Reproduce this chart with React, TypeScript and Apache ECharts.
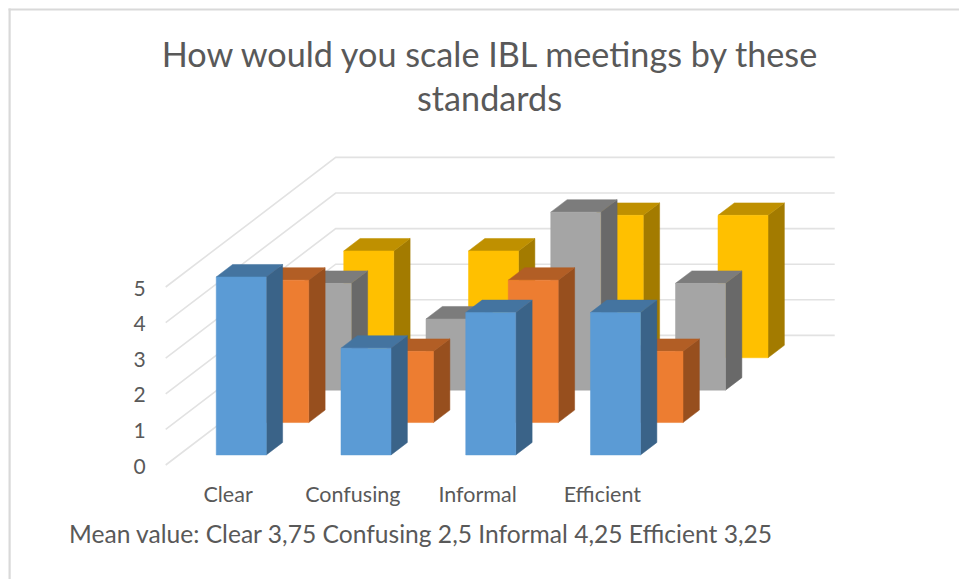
import React, { useEffect, useRef } from "react";
import * as echarts from "echarts";

const titleText = "How would you scale IBL meetings by these\nstandards";
const noteText = "Mean value: Clear 3,75 Confusing 2,5 Informal 4,25 Efficient 3,25";
const categories = ["Clear", "Confusing", "Informal", "Efficient"];
const valueTicks = [0, 1, 2, 3, 4, 5];
const blueValues = [5, 3, 4, 4];
const orangeValues = [4, 2, 4, 2];
const grayValues = [3, 2, 5, 3];
const yellowValues = [3, 3, 4, 4];

const FONT = "Lato";
const DEPTH_DX = 42.5;
const DEPTH_DY = 32.4;
const ROWS = 4;
const ROW_START = 0.31;
const BAR_DEPTH = 0.385;
const BAR_WIDTH_RATIO = 0.401;

type Faces = { front: string; top: string; side: string };

function barSeries(name: string, values: number[], row: number, faces: Faces) {
  return {
    type: "custom",
    name,
    coordinateSystem: "cartesian2d",
    z: 10 - row,
    silent: true,
    data: values.map((v, i) => [i, v]),
    encode: { x: 0, y: 1 },
    renderItem: (_: any, api: any) => {
      const top = api.coord([api.value(0), api.value(1)]);
      const base = api.coord([api.value(0), 0]);
      const band = api.size([1, 0])[0];
      const w = band * BAR_WIDTH_RATIO;
      const ox = (ROW_START + row) * DEPTH_DX;
      const oy = -(ROW_START + row) * DEPTH_DY;
      const l = top[0] + ox - w / 2;
      const r = l + w;
      const t = top[1] + oy;
      const b = base[1] + oy;
      const dx = BAR_DEPTH * DEPTH_DX;
      const dy = BAR_DEPTH * DEPTH_DY;
      const poly = (points: number[][], fill: string) => ({
        type: "polygon",
        shape: { points },
        style: { fill, stroke: fill, lineWidth: 0.5 },
      });
      return {
        type: "group",
        children: [
          poly([[r, t], [r + dx, t - dy], [r + dx, b - dy], [r, b]], faces.side),
          poly([[l, t], [l + dx, t - dy], [r + dx, t - dy], [r, t]], faces.top),
          poly([[l, t], [r, t], [r, b], [l, b]], faces.front),
        ],
      };
    },
  };
}

const wallSeries = {
  type: "custom",
  name: "Walls",
  coordinateSystem: "cartesian2d",
  z: 1,
  silent: true,
  data: valueTicks.map((v) => [0, v]),
  encode: { x: 0, y: 1 },
  renderItem: (_: any, api: any) => {
    const p = api.coord([0, api.value(1)]);
    const band = api.size([1, 0])[0];
    const x0 = p[0] - band / 2;
    const bx = x0 + ROWS * DEPTH_DX;
    const by = p[1] - ROWS * DEPTH_DY;
    return {
      type: "polyline",
      shape: { points: [[x0, p[1]], [bx, by], [bx + band * categories.length, by]] },
      style: { fill: "none", stroke: "#e2e2e2", lineWidth: 1.6 },
    };
  },
};

export default function App() {
  const ref = useRef<HTMLDivElement>(null);
  useEffect(() => {
    document.body.style.margin = "0";
    const chart = echarts.init(ref.current!, undefined, { renderer: "svg" });
    chart.setOption({
      animation: false,
      backgroundColor: "#ffffff",
      title: {
        text: titleText,
        left: 484.5,
        top: 26,
        textAlign: "center",
        textStyle: {
          fontFamily: FONT,
          fontSize: 34.2,
          fontWeight: "normal",
          color: "#595959",
          lineHeight: 44,
        },
      },
      grid: { left: 165.7, top: 287, width: 499, height: 178 },
      xAxis: {
        type: "category",
        data: categories,
        axisLine: { show: false },
        axisTick: { show: false },
        axisLabel: { fontFamily: FONT, fontSize: 21.5, color: "#595959", margin: 18 },
      },
      yAxis: {
        type: "value",
        min: 0,
        max: 5,
        interval: 1,
        axisLine: { show: false },
        axisTick: { show: false },
        splitLine: { show: false },
        axisLabel: { fontFamily: FONT, fontSize: 21, color: "#595959", margin: 20, verticalAlign: "middle", padding: [0, 0, 1, 0] },
      },
      graphic: [
        { type: "rect", shape: { x: 8.5, y: 8.5, width: 951, height: 2 }, style: { fill: "#d9d9d9" }, silent: true },
        { type: "rect", shape: { x: 8.5, y: 8.5, width: 2.2, height: 571 }, style: { fill: "#d9d9d9" }, silent: true },
        {
          type: "text",
          x: 69,
          y: 533,
          style: { text: noteText, fontFamily: FONT, fontSize: 24.6, fill: "#595959", textVerticalAlign: "middle" },
          silent: true,
        },
      ],
      series: [
        wallSeries,
        barSeries("Yellow", yellowValues, 3, { front: "#FFC000", top: "#BF9000", side: "#A37B00" }),
        barSeries("Gray", grayValues, 2, { front: "#A5A5A5", top: "#7C7C7C", side: "#696969" }),
        barSeries("Orange", orangeValues, 1, { front: "#ED7D31", top: "#B25E25", side: "#974F1E" }),
        barSeries("Blue", blueValues, 0, { front: "#5B9BD5", top: "#4474A0", side: "#3A6388" }),
      ],
    });
    return () => chart.dispose();
  }, []);
  return <div ref={ref} style={{ position: "absolute", left: 0, top: 0, width: 959, height: 579 }} />;
}
